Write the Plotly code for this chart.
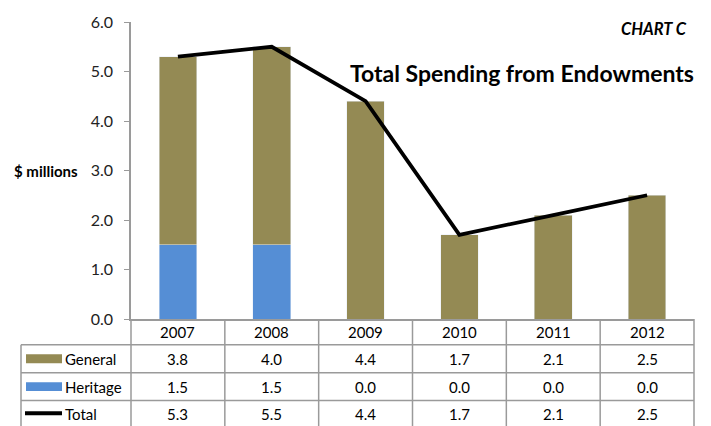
import plotly.graph_objects as go

years = ["2007", "2008", "2009", "2010", "2011", "2012"]
general = [3.8, 4.0, 4.4, 1.7, 2.1, 2.5]
heritage = [1.5, 1.5, 0.0, 0.0, 0.0, 0.0]
total = [5.3, 5.5, 4.4, 1.7, 2.1, 2.5]

OLIVE = "#948A54"
BLUE = "#558ED5"
GRID = "#9a9a9a"
FONT = "Lato"

W, H = 711, 426
ML, MR, MT, MB = 131, 17, 18, 107
PW = W - ML - MR
PH = H - MT - MB


def px_x(px):
    return (px - ML) / PW


def px_y(py):
    return (H - MB - py) / PH


n = len(years)


def cat_x(i):
    # paper position of category i centre (axis range is -0.5 .. n-0.5)
    return (i + 0.5) / n


fig = go.Figure()
fig.add_trace(go.Bar(x=years, y=heritage, name="Heritage", marker_color=BLUE, width=0.4))
fig.add_trace(go.Bar(x=years, y=general, name="General", marker_color=OLIVE, width=0.4))
fig.add_trace(go.Scatter(x=years, y=total, name="Total", mode="lines",
                         line=dict(color="black", width=3.8)))

shapes = []
annotations = []

row_lines = [319, 345, 373.5, 401.5, 429.5]
rows = [("General", general), ("Heritage", heritage), ("Total", total)]

# vertical lines (category boundaries)
for i in range(n + 1):
    shapes.append(dict(type="line", xref="paper", yref="paper", x0=i / n, x1=i / n,
                       y0=px_y(319), y1=px_y(row_lines[-1]),
                       line=dict(color=GRID, width=1.5)))
# left edge of table body
shapes.append(dict(type="line", xref="paper", yref="paper", x0=px_x(21), x1=px_x(21),
                   y0=px_y(345), y1=px_y(row_lines[-1]), line=dict(color=GRID, width=1.5)))
# horizontal lines
for yl in row_lines[1:]:
    shapes.append(dict(type="line", xref="paper", yref="paper", x0=px_x(21), x1=1,
                       y0=px_y(yl), y1=px_y(yl), line=dict(color=GRID, width=1.5)))

txt = dict(family=FONT, size=15, color="black")

# header year labels
hmid = (row_lines[0] + row_lines[1]) / 2
for i, yr in enumerate(years):
    annotations.append(dict(x=cat_x(i), y=px_y(hmid), xref="paper", yref="paper", text=yr,
                            showarrow=False, xanchor="center", yanchor="middle", font=txt))

# body rows
for r, (label, vals) in enumerate(rows):
    mid = (row_lines[r + 1] + row_lines[r + 2]) / 2
    annotations.append(dict(x=px_x(63), y=px_y(mid), xref="paper", yref="paper",
                            text=label, showarrow=False, xanchor="left", yanchor="middle",
                            font=txt))
    for i, v in enumerate(vals):
        annotations.append(dict(x=cat_x(i), y=px_y(mid), xref="paper", yref="paper",
                                text=f"{v:.1f}", showarrow=False, xanchor="center",
                                yanchor="middle", font=txt))

# legend keys
mids = [(row_lines[k] + row_lines[k + 1]) / 2 for k in (1, 2, 3)]
shapes.append(dict(type="rect", xref="paper", yref="paper", x0=px_x(26), x1=px_x(62),
                   y0=px_y(mids[0] - 4.5), y1=px_y(mids[0] + 4.5),
                   fillcolor=OLIVE, line=dict(width=0)))
shapes.append(dict(type="rect", xref="paper", yref="paper", x0=px_x(26), x1=px_x(62),
                   y0=px_y(mids[1] - 4.5), y1=px_y(mids[1] + 4.5),
                   fillcolor=BLUE, line=dict(width=0)))
shapes.append(dict(type="line", xref="paper", yref="paper", x0=px_x(25), x1=px_x(62),
                   y0=px_y(mids[2] - 1), y1=px_y(mids[2] - 1),
                   line=dict(color="black", width=3.8)))

# titles
annotations.append(dict(x=px_x(689), y=px_y(25), xref="paper", yref="paper",
                        text="<b><i>CHART C</i></b>", showarrow=False, xanchor="right",
                        yanchor="middle", font=dict(family=FONT, size=16.5, color="black")))
annotations.append(dict(x=px_x(696), y=px_y(70), xref="paper", yref="paper",
                        text="<b>Total Spending from Endowments</b>", showarrow=False,
                        xanchor="right", yanchor="middle",
                        font=dict(family=FONT, size=23, color="black")))
annotations.append(dict(x=px_x(12), y=px_y(169), xref="paper", yref="paper",
                        text="<b>$ millions</b>", showarrow=False, xanchor="left",
                        yanchor="middle", font=dict(family=FONT, size=15, color="black")))

fig.update_layout(
    width=W, height=H,
    margin=dict(l=ML, r=MR, t=MT, b=MB),
    barmode="stack",
    showlegend=False,
    plot_bgcolor="white", paper_bgcolor="white",
    shapes=shapes, annotations=annotations,
    font=dict(family=FONT, size=15, color="black"),
)
fig.update_xaxes(type="category", range=[-0.5, n - 0.5], showticklabels=False,
                 showline=True, linecolor=GRID, linewidth=1.5, ticks="", showgrid=False,
                 fixedrange=True)
fig.update_yaxes(range=[0, 6], dtick=1, tickformat=".1f", showline=True, linecolor=GRID,
                 linewidth=1.5, ticks="outside", ticklen=5, tickcolor=GRID,
                 ticklabelstandoff=8,
                 showgrid=False, zeroline=False,
                 tickfont=dict(family=FONT, size=16, color="#222"),
                 fixedrange=True)

fig.write_html("out.html")
